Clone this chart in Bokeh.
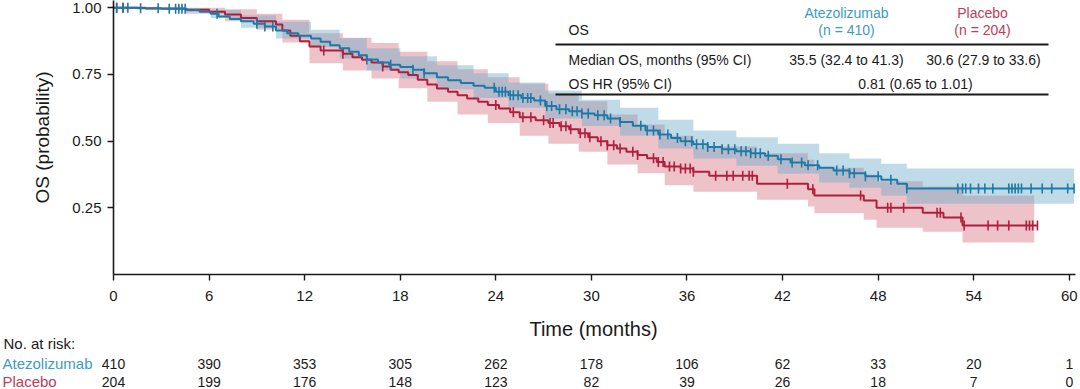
import numpy as np
from bokeh.plotting import figure
from bokeh.layouts import column
from bokeh.models import Label, FixedTicker, NumeralTickFormatter, Range1d
from bokeh.core.properties import value
from bokeh.embed import file_html
from bokeh.resources import INLINE

# ---------------- data ----------------
arms = ["Atezolizumab", "Placebo"]

atezo_t = [0, 1.5, 3.0, 4.6, 5.4, 6.1, 6.6, 7.3, 8.0, 8.8, 9.5, 10.2, 10.9, 11.6, 12.4, 13.0,
           13.6, 14.2, 14.8, 15.4, 15.9, 16.6, 17.3, 18.0, 18.8, 19.5, 20.3, 21.0, 21.8, 22.6,
           23.3, 24.0, 24.8, 25.6, 26.4, 27.1, 27.8, 28.6, 29.4, 30.2, 31.0, 31.8, 32.6, 33.4,
           34.2, 35.0, 35.6, 36.4, 37.3, 38.2, 39.1, 40.0, 40.9, 41.7, 42.5, 43.4, 44.3, 45.2,
           46.2, 47.2, 48.2, 49.2, 49.8]
atezo_s = [1.0, 0.998, 0.996, 0.992, 0.985, 0.978, 0.967, 0.958, 0.950, 0.940, 0.930, 0.915,
           0.905, 0.895, 0.885, 0.873, 0.860, 0.848, 0.835, 0.822, 0.806, 0.795, 0.786, 0.778,
           0.768, 0.755, 0.740, 0.728, 0.718, 0.708, 0.700, 0.685, 0.672, 0.662, 0.652, 0.632,
           0.620, 0.612, 0.604, 0.597, 0.585, 0.572, 0.558, 0.540, 0.525, 0.512, 0.500, 0.488,
           0.478, 0.470, 0.462, 0.455, 0.445, 0.432, 0.420, 0.410, 0.400, 0.390, 0.380, 0.368,
           0.355, 0.340, 0.322]
atezo_end = 60.3

placebo_t = [0, 2.0, 4.5, 6.0, 7.0, 8.0, 9.0, 10.2, 10.6, 11.1, 11.7, 12.3, 13.0, 14.4, 15.0,
             15.6, 16.2, 16.9, 17.4, 17.9, 18.5, 19.1, 19.7, 20.3, 21.0, 21.6, 22.2, 22.9, 23.5,
             24.2, 24.9, 25.5, 26.5, 27.3, 28.0, 28.6, 29.2, 29.8, 30.4, 31.0, 31.6, 32.2, 32.9,
             33.5, 34.1, 34.6, 35.6, 36.4, 37.4, 40.4, 43.6, 44.0, 47.1, 47.9, 50.8, 52.1, 53.3]
placebo_s = [1.0, 0.997, 0.993, 0.985, 0.975, 0.962, 0.950, 0.937, 0.915, 0.895, 0.875, 0.855,
             0.840, 0.828, 0.815, 0.805, 0.795, 0.780, 0.768, 0.758, 0.748, 0.730, 0.712, 0.697,
             0.685, 0.672, 0.660, 0.648, 0.636, 0.622, 0.608, 0.590, 0.578, 0.568, 0.556, 0.545,
             0.530, 0.515, 0.500, 0.485, 0.472, 0.460, 0.448, 0.436, 0.422, 0.405, 0.397, 0.385,
             0.370, 0.340, 0.320, 0.296, 0.277, 0.250, 0.232, 0.214, 0.184]
placebo_end = 58.0

atezo_ci_t = [0, 4.6, 6.1, 8.0, 10.2, 12.4, 14.2, 15.9, 18.0, 20.3, 22.6, 24.8, 27.1, 29.4, 31.8,
              34.2, 36.4, 39.1, 41.7, 44.3, 46.2, 48.2, 49.8]
atezo_ci_lo = [1.0, 0.984, 0.962, 0.925, 0.885, 0.852, 0.810, 0.765, 0.735, 0.695, 0.662, 0.625,
               0.585, 0.557, 0.520, 0.472, 0.435, 0.408, 0.378, 0.345, 0.325, 0.295, 0.265]
atezo_ci_hi = [1.0, 0.998, 0.992, 0.972, 0.948, 0.918, 0.886, 0.848, 0.818, 0.785, 0.755, 0.720,
               0.690, 0.655, 0.625, 0.580, 0.540, 0.515, 0.490, 0.455, 0.435, 0.415, 0.397]
atezo_ci_end = 60.3

placebo_ci_t = [0, 4.5, 7.0, 9.0, 10.6, 12.3, 14.4, 16.2, 17.9, 19.7, 21.6, 23.5, 25.5, 27.3,
                29.2, 31.0, 32.9, 34.6, 36.4, 40.4, 43.6, 44.0, 47.1, 47.9, 50.8, 53.3]
placebo_ci_lo = [1.0, 0.978, 0.950, 0.918, 0.870, 0.792, 0.765, 0.735, 0.698, 0.648, 0.600,
                 0.568, 0.520, 0.490, 0.460, 0.412, 0.380, 0.335, 0.310, 0.280, 0.255, 0.230,
                 0.205, 0.175, 0.160, 0.120]
placebo_ci_hi = [1.0, 1.0, 0.995, 0.978, 0.955, 0.905, 0.888, 0.868, 0.835, 0.800, 0.770, 0.740,
                 0.715, 0.680, 0.650, 0.600, 0.562, 0.520, 0.480, 0.455, 0.430, 0.400, 0.375,
                 0.350, 0.330, 0.296]
placebo_ci_end = 57.8

atezo_cens = [0.2, 0.6, 0.9, 1.7, 2.8, 3.5, 3.9, 4.1, 4.3, 4.5, 6.5, 9.0, 9.5, 10.0, 15.9, 17.4,
              18.8, 19.5, 23.9, 24.2, 24.4, 24.6, 24.9, 25.1, 25.4, 25.7, 26.0, 26.2, 26.8, 27.2,
              27.5, 28.0, 28.4, 28.8, 29.1, 29.4, 29.8, 30.4, 30.8, 31.2, 31.8, 33.1, 33.5, 33.9,
              34.3, 34.8, 35.4, 35.9, 36.3, 36.6, 37.0, 37.3, 37.7, 38.2, 38.6, 39.0, 39.4, 39.7,
              40.0, 40.3, 40.6, 41.1, 41.9, 42.6, 43.2, 43.6, 44.2, 45.4, 45.8, 46.2, 46.5, 47.2,
              48.0, 48.8, 49.8, 53.0, 53.3, 53.5, 53.8, 54.3, 54.7, 55.2, 56.2, 56.4, 56.6, 56.8,
              57.0, 57.6, 58.3, 58.9, 59.9, 60.3]
placebo_cens = [0.2, 0.6, 13.2, 14.4, 16.9, 24.0, 25.1, 25.7, 26.2, 27.0, 27.4, 27.6, 28.1, 28.4,
                28.7, 29.3, 29.6, 29.9, 30.6, 31.0, 31.4, 31.8, 32.6, 32.9, 33.9, 34.2, 34.5,
                34.9, 35.2, 35.6, 35.9, 36.2, 36.4, 37.8, 38.5, 38.9, 39.5, 39.9, 40.1, 42.3,
                43.9, 46.9, 48.6, 48.8, 49.6, 51.7, 51.9, 53.2, 53.4, 54.9, 55.5, 56.2, 57.3,
                57.5, 57.7, 58.0]

risk_times = [0, 6, 12, 18, 24, 30, 36, 42, 48, 54, 60]
atezo_risk = [410, 390, 353, 305, 262, 178, 106, 62, 33, 20, 1]
placebo_risk = [204, 199, 176, 148, 123, 82, 39, 26, 18, 7, 0]

x_ticks = [0, 6, 12, 18, 24, 30, 36, 42, 48, 54, 60]
y_ticks = [0.25, 0.50, 0.75, 1.00]

table_header = ["OS", "Atezolizumab", "(n = 410)", "Placebo", "(n = 204)"]
median_row = ["Median OS, months (95% CI)", "35.5 (32.4 to 41.3)", "30.6 (27.9 to 33.6)"]
hr_row = ["OS HR (95% CI)", "0.81 (0.65 to 1.01)"]

# ---------------- styling / layout ----------------
BLUE = "#1c7aa8"
RED = "#b01f3e"
BLUE_TXT = "#3d9bc4"
RED_TXT = "#c23b57"
BLUE_BAND = "#6aa9c9"
RED_BAND = "#d5707f"
INK = "#1a1a1a"
FONT = "Liberation Sans"

W = 1080
H1, H2 = 310, 79
BL, BR, BB = 113, 5, 36
FRAME_H = H1 - BB          # 274
FRAME_W = W - BL - BR      # 962
PPM = 15.93                # px per month
PPY = 266.7                # px per unit probability
XMAX = FRAME_W / PPM
YMAX = FRAME_H / PPY


def X(px):
    return (px - BL) / PPM


def Y(py):
    return (FRAME_H - py) / PPY


p = figure(width=W, height=H1, x_range=Range1d(0, XMAX), y_range=Range1d(0, YMAX),
           output_backend="svg", toolbar_location=None,
           min_border_left=BL, min_border_right=BR, min_border_top=0, min_border_bottom=BB)
p.outline_line_color = None
p.grid.visible = False


def ext(t, v, end):
    return list(t) + [end], list(v) + [v[-1]]


# confidence bands
for ct, lo, hi, cend, col in [(placebo_ci_t, placebo_ci_lo, placebo_ci_hi, placebo_ci_end, RED_BAND),
                              (atezo_ci_t, atezo_ci_lo, atezo_ci_hi, atezo_ci_end, BLUE_BAND)]:
    xt, ylo = ext(ct, lo, cend)
    _, yhi = ext(ct, hi, cend)
    p.varea_step(x=xt, y1=ylo, y2=yhi, step_mode="after", fill_color=col, fill_alpha=0.42)

# KM curves and censor marks
for t, s, end, cens, col in [(placebo_t, placebo_s, placebo_end, placebo_cens, RED),
                             (atezo_t, atezo_s, atezo_end, atezo_cens, BLUE)]:
    xt, ys = ext(t, s, end)
    p.step(x=xt, y=ys, mode="after", line_color=col, line_width=2)
    idx = np.searchsorted(np.array(t), np.array(cens), side="right") - 1
    cy = np.array(s)[idx]
    p.scatter(x=cens, y=cy, marker="dash", angle=np.pi / 2, size=10,
              line_color=col, line_width=1.6)

# axes
p.xaxis.ticker = FixedTicker(ticks=x_ticks)
p.yaxis.ticker = FixedTicker(ticks=y_ticks)
p.yaxis.formatter = NumeralTickFormatter(format="0.00")
for ax in (p.xaxis, p.yaxis):
    ax.axis_line_color = INK
    ax.axis_line_width = 1.6
    ax.major_tick_line_color = INK
    ax.major_tick_line_width = 1.4
    ax.major_tick_in = 0
    ax.major_tick_out = 6
    ax.minor_tick_line_color = None
    ax.major_label_text_font = FONT
    ax.major_label_text_font_size = "15px"
    ax.major_label_text_color = INK
    ax.axis_label_text_font = FONT
    ax.axis_label_text_font_size = "19px"
    ax.axis_label_text_font_style = "normal"
    ax.axis_label_text_color = INK
p.yaxis.axis_label = "OS (probability)"
p.xaxis.major_label_standoff = 10
p.yaxis.major_label_standoff = 6
p.yaxis.axis_label_standoff = 16


def lab(x, y, text, color=INK, align="left", size="14px"):
    p.add_layout(Label(x=x, y=y, text=text, text_color=color, text_align=align,
                       text_baseline="middle", text_font=FONT, text_font_size=size))


# summary table (top right)
lab(X(568), Y(29), table_header[0])
lab(X(846), Y(12), table_header[1], BLUE_TXT, "center")
lab(X(846), Y(29), table_header[2], BLUE_TXT, "center")
lab(X(982), Y(12), table_header[3], RED_TXT, "center")
lab(X(982), Y(29), table_header[4], RED_TXT, "center")
lab(X(568), Y(59), median_row[0])
lab(X(846), Y(59), median_row[1], INK, "center")
lab(X(983), Y(59), median_row[2], INK, "center")
lab(X(568), Y(83), hr_row[0])
lab(X(915), Y(83), hr_row[1], INK, "center")
p.segment(x0=[X(555), X(555)], y0=[Y(44), Y(94)], x1=[X(1048), X(1048)], y1=[Y(44), Y(94)],
          line_color=INK, line_width=2)

# ---------------- lower panel: axis title + number at risk ----------------
# frame spans the whole panel width; months map to the same pixels as the plot above
p2 = figure(width=W, height=H2, x_range=Range1d(-BL / PPM, (W - BL) / PPM),
            y_range=Range1d(H2, 0), output_backend="svg", toolbar_location=None,
            x_axis_type=None, y_axis_type=None,
            min_border_left=0, min_border_right=0, min_border_top=0, min_border_bottom=0)
p2.outline_line_color = None
p2.grid.visible = False
try:
    p.frame_align = False
    p2.frame_align = False
except Exception:
    pass

ROW0 = H1  # page y of the lower panel's top


def txt(x, y, text, color=INK, align="left", size="14px"):
    p2.text(x=[x], y=[y], text=[text], text_color=color, text_align=align,
            text_baseline="middle", text_font=value(FONT), text_font_size=size)


txt(X(593), 328 - ROW0, "Time (months)", INK, "center", "20px")
txt(X(3), 343 - ROW0, "No. at risk:", INK, "left", "15px")
txt(X(2), 363 - ROW0, arms[0], BLUE_TXT, "left", "15px")
txt(X(2), 381 - ROW0, arms[1], RED_TXT, "left", "15px")
p2.text(x=risk_times, y=[363 - ROW0] * len(risk_times), text=[str(v) for v in atezo_risk],
        text_color=INK, text_align="center", text_baseline="middle",
        text_font=value(FONT), text_font_size="14px")
p2.text(x=risk_times, y=[381 - ROW0] * len(risk_times), text=[str(v) for v in placebo_risk],
        text_color=INK, text_align="center", text_baseline="middle",
        text_font=value(FONT), text_font_size="14px")

layout = column(p, p2, spacing=0)
open("out.html", "w").write(file_html(layout, INLINE))
